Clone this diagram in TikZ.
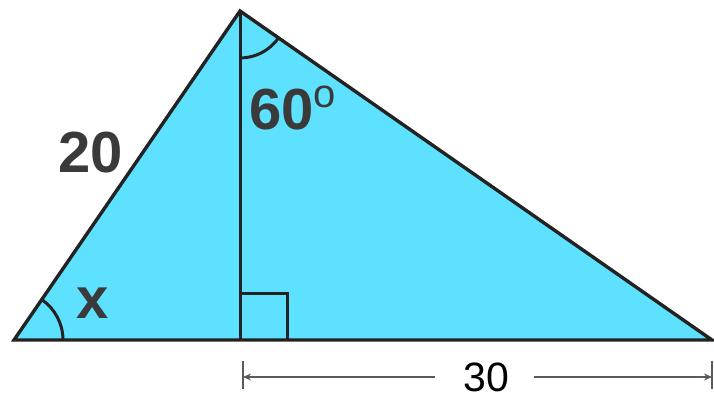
\documentclass[tikz,border=0pt]{standalone}
\usepackage{fontspec}
\setmainfont{Liberation Sans}
\usetikzlibrary{arrows.meta}
\definecolor{fillc}{HTML}{5EE0FF}
\definecolor{linec}{HTML}{222222}
\definecolor{labc}{HTML}{3A3A3A}
\definecolor{dimc}{HTML}{5A5A5A}
\begin{document}
\begin{tikzpicture}[x=1pt,y=-1pt,
  edge/.style={draw=linec,line width=3.4pt,line join=miter},
  thin edge/.style={draw=linec,line width=3pt},
  biglab/.style={text=labc,font=\fontsize{58}{58}\selectfont\bfseries,inner sep=0pt},
  dimlab/.style={text=black,font=\fontsize{41}{41}\selectfont,inner sep=0pt},
  dimline/.style={draw=dimc,line width=1.4pt}]
\useasboundingbox (0,0) rectangle (714,396);
\coordinate (A) at (14,340);
\coordinate (B) at (240,11);
\coordinate (C) at (712,340);
\coordinate (D) at (240,340);
\fill[fillc] (A) -- (B) -- (C) -- cycle;
% altitude
\draw[thin edge] (B) -- (D);
% right angle box
\coordinate (S1) at (240,293);
\coordinate (S2) at (287,293);
\coordinate (S3) at (287,340);
\draw[thin edge] (S1) -- (S2) -- (S3);
% angle arcs
\draw[thin edge] (B) ++(90:47) arc[start angle=90,end angle=34.9,radius=47];
\draw[thin edge] (A) ++(0:49) arc[start angle=0,end angle=-55.5,radius=49];
% triangle outline
\draw[edge] (A) -- (B) -- (C) -- cycle;
% labels
\node[biglab] (l20) at (91,153) {20};
\node[biglab,anchor=base west] (l60) at (249,129) {60\raisebox{22pt}{\mdseries\fontsize{40}{40}\selectfont o}};
\node[biglab,anchor=base] (lx) at (93,318) {x};
% dimension
\coordinate (E1) at (243,377);
\coordinate (E2) at (712,377);
\coordinate (G1) at (435,377);
\coordinate (G2) at (534,377);
\coordinate (T1a) at (243,361);
\coordinate (T1b) at (243,389);
\coordinate (T2a) at (712,361);
\coordinate (T2b) at (712,389);
\draw[dimline] (T1a) -- (T1b);
\draw[dimline] (T2a) -- (T2b);
\draw[dimline,{Stealth[length=8pt,width=7pt]}-] (E1) -- (G1);
\draw[dimline,-{Stealth[length=8pt,width=7pt]}] (G2) -- (E2);
\node[dimlab] (l30) at (486,377) {30};
\end{tikzpicture}
\end{document}
